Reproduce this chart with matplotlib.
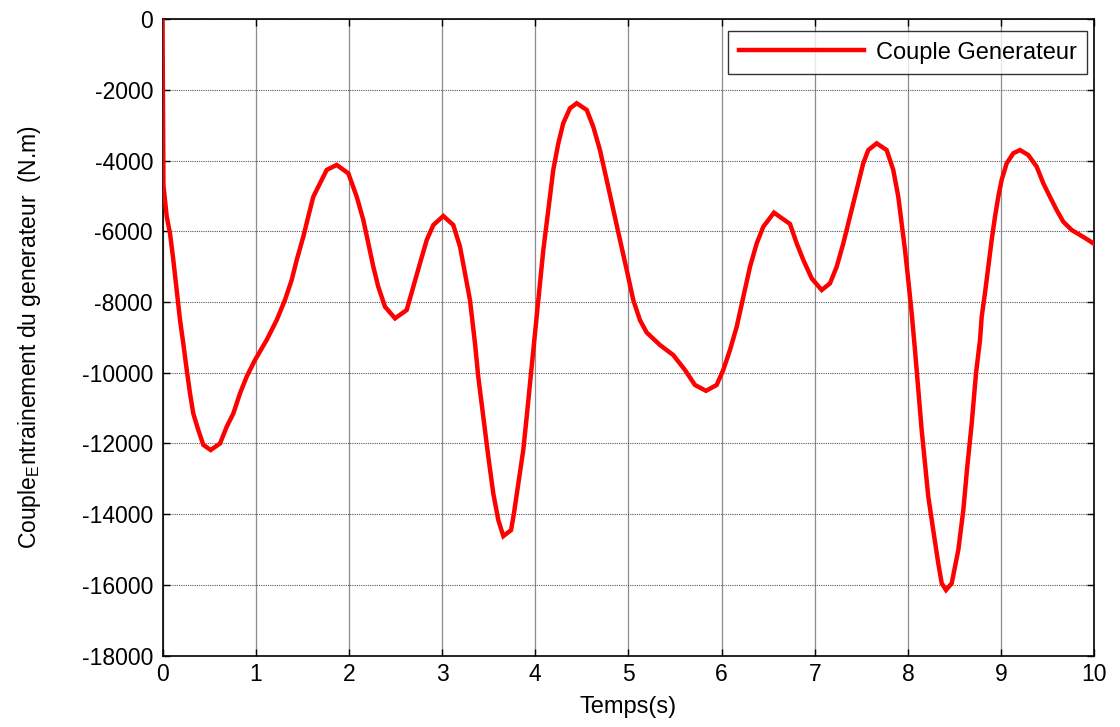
import matplotlib
matplotlib.use("Agg")
import matplotlib.pyplot as plt

# Generator torque over time (s, N.m)
temps = [
    0.0, 0.01, 0.045, 0.080, 0.116, 0.152, 0.188, 0.223, 0.260, 0.295,
    0.330, 0.384, 0.438, 0.517, 0.617, 0.689, 0.760, 0.832, 0.903, 0.992,
    1.118, 1.225, 1.314, 1.386, 1.440, 1.511, 1.564, 1.618, 1.690, 1.762,
    1.869, 1.994, 2.084, 2.155, 2.208, 2.262, 2.315, 2.387, 2.495, 2.620,
    2.691, 2.763, 2.835, 2.906, 3.013, 3.120, 3.192, 3.246, 3.299, 3.353,
    3.388, 3.442, 3.496, 3.549, 3.603, 3.657, 3.740, 3.771, 3.818, 3.871,
    3.908, 3.943, 3.979, 4.015, 4.050, 4.086, 4.122, 4.158, 4.193, 4.247,
    4.300, 4.372, 4.444, 4.552, 4.622, 4.694, 4.766, 4.837, 4.909, 4.981,
    5.052, 5.123, 5.195, 5.338, 5.481, 5.606, 5.713, 5.832, 5.946, 6.017,
    6.089, 6.161, 6.232, 6.304, 6.376, 6.446, 6.561, 6.733, 6.805, 6.876,
    6.966, 7.073, 7.162, 7.234, 7.305, 7.377, 7.449, 7.519, 7.573, 7.663,
    7.770, 7.841, 7.895, 7.931, 7.967, 8.002, 8.039, 8.074, 8.110, 8.146,
    8.181, 8.217, 8.270, 8.324, 8.361, 8.407, 8.468, 8.503, 8.539, 8.593,
    8.635, 8.683, 8.729, 8.772, 8.790, 8.825, 8.861, 8.897, 8.933, 8.968,
    9.004, 9.058, 9.129, 9.201, 9.290, 9.380, 9.451, 9.522, 9.594, 9.665,
    9.755, 9.844, 9.933, 10.0,
]
couple = [
    0, -4700, -5580, -6050, -6810, -7660, -8510, -9170, -9920, -10580,
    -11150, -11620, -12040, -12185, -12000, -11525, -11150, -10580, -10110, -9640,
    -9070, -8510, -7940, -7375, -6810, -6150, -5580, -5020, -4640, -4260,
    -4120, -4360, -5020, -5680, -6340, -7000, -7565, -8130, -8460, -8225,
    -7565, -6900, -6245, -5820, -5565, -5820, -6430, -7185, -7940, -9170,
    -10110, -11240, -12375, -13410, -14165, -14620, -14450, -13975, -13125, -12185,
    -11240, -10300, -9355, -8415, -7470, -6530, -5770, -5020, -4260, -3510,
    -2940, -2520, -2375, -2565, -3040, -3700, -4545, -5395, -6245, -7090,
    -7950, -8510, -8860, -9215, -9500, -9920, -10345, -10510, -10345, -9920,
    -9355, -8700, -7850, -7000, -6340, -5870, -5470, -5790, -6340, -6810,
    -7330, -7660, -7470, -7000, -6340, -5580, -4830, -4075, -3700, -3510,
    -3700, -4260, -5020, -5770, -6525, -7375, -8320, -9355, -10490, -11620,
    -12560, -13505, -14450, -15390, -15955, -16145, -15955, -15490, -15015, -13880,
    -12660, -11430, -10015, -9070, -8415, -7750, -7000, -6245, -5580, -5020,
    -4545, -4075, -3790, -3700, -3840, -4170, -4640, -5020, -5395, -5725,
    -5960, -6100, -6245, -6360,
]

x_ticks = list(range(0, 11))
y_ticks = list(range(-18000, 1, 2000))

plt.rcParams["font.family"] = ["Liberation Sans", "DejaVu Sans"]
plt.rcParams["mathtext.fontset"] = "custom"
plt.rcParams["mathtext.rm"] = "Liberation Sans"
plt.rcParams["mathtext.it"] = "Liberation Sans"

fig = plt.figure(figsize=(11.2, 7.27), dpi=100)
ax = fig.add_axes([0.1451, 0.0982, 0.8321, 0.8753])

ax.plot(temps, couple, color="#ff0000", lw=3.2, label="Couple Generateur",
        solid_joinstyle="miter", zorder=3)

ax.set_xlim(0, 10)
ax.set_ylim(-18000, 0)
ax.set_xticks(x_ticks)
ax.set_yticks(y_ticks)
ax.set_xticklabels([str(v) for v in x_ticks])
ax.set_yticklabels([str(v) for v in y_ticks])

# vertical grid solid grey, horizontal grid dotted
ax.xaxis.grid(True, color="#8c8c8c", lw=0.9, ls="-")
ax.yaxis.grid(True, color="#555555", lw=0.8, ls=(0, (1, 1)))
ax.set_axisbelow(True)

ax.tick_params(direction="in", length=5, width=1.0, top=True, right=True,
               labelsize=16.5, colors="black")
ax.tick_params(axis="y", pad=6.8)
ax.tick_params(axis="x", pad=5.5)
for s in ax.spines.values():
    s.set_linewidth(1.2)
    s.set_color("black")

ax.set_xlabel("Temps(s)", fontsize=17)
ax.xaxis.set_label_coords(0.5, -0.064)
ax.set_ylabel(r"Couple$_\mathrm{E}$ntrainement du generateur  (N.m)",
              fontsize=16.5)
ax.yaxis.set_label_coords(-0.128, 0.5)

leg = ax.legend(loc="upper right", fontsize=17, frameon=True, fancybox=False,
                borderpad=0.45, handlelength=5.3, handletextpad=0.5,
                bbox_to_anchor=(0.992, 0.9816), borderaxespad=0.0)
leg.get_frame().set_edgecolor("black")
leg.get_frame().set_linewidth(1.0)

fig.savefig("out.png", dpi=100, facecolor="white")
